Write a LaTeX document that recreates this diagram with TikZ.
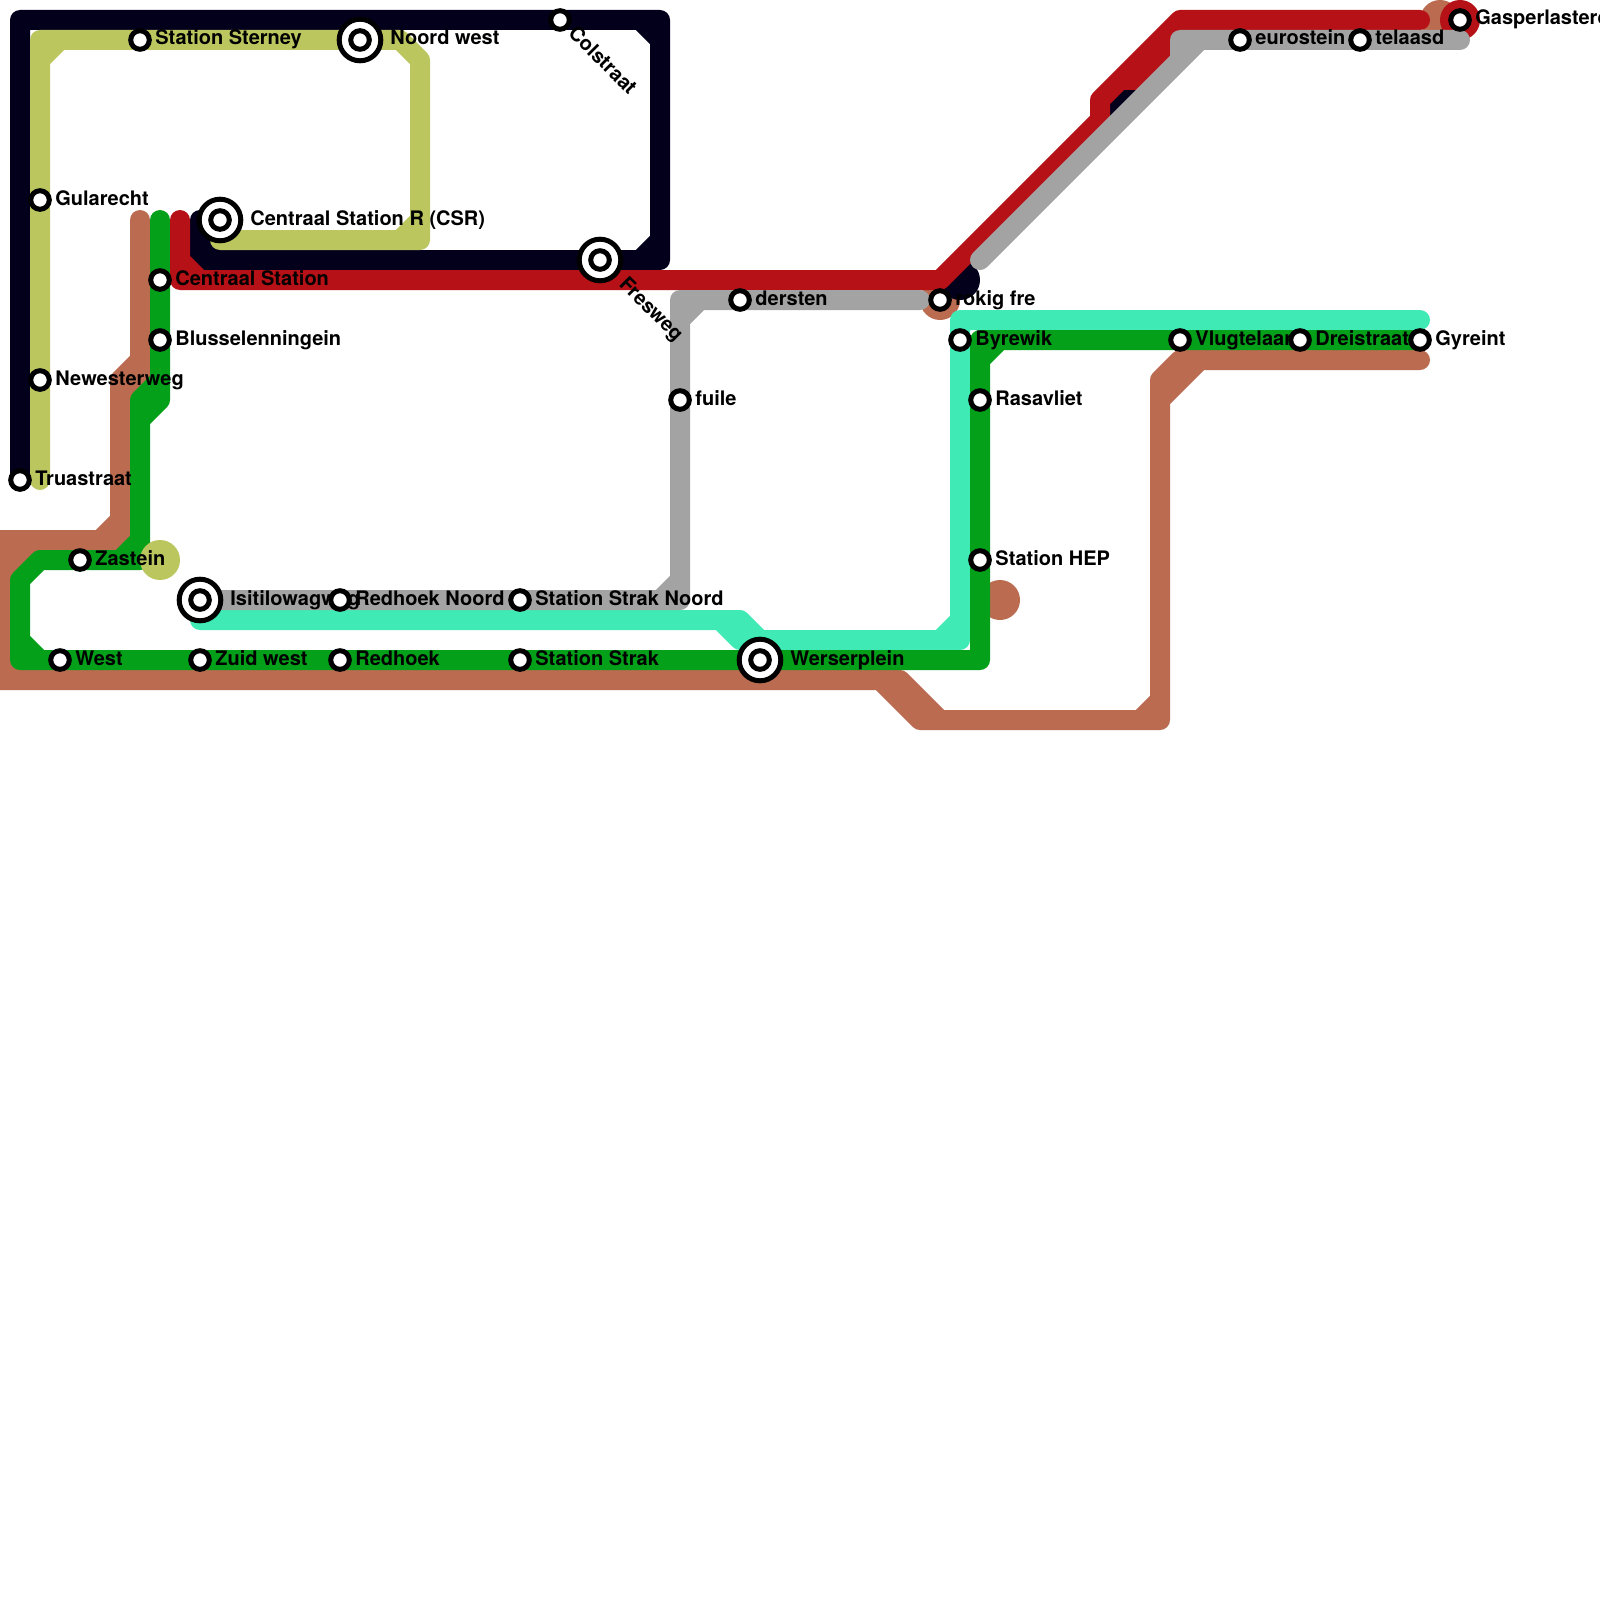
\documentclass[tikz,border=0pt]{standalone}
\usepackage{fontspec}
\setmainfont{TeX Gyre Heros}
\definecolor{cblack}{HTML}{03001C}
\definecolor{cred}{HTML}{B51116}
\definecolor{cgreen}{HTML}{05A01A}
\definecolor{cbrown}{HTML}{BA6B50}
\definecolor{colive}{HTML}{BBC65E}
\definecolor{cteal}{HTML}{40EAB5}
\definecolor{cgray}{HTML}{A3A3A3}
\tikzset{
  metro/.style={line width=10pt,line cap=round,line join=round},
  stn/.style={circle,draw=black,fill=white,line width=2.5pt,inner sep=0pt,minimum size=9.3pt},
  bigstn/.style={circle,draw=black,fill=white,line width=2.5pt,inner sep=0pt,minimum size=20.8pt},
  lab/.style={anchor=base west,inner sep=0pt,font=\fontsize{10pt}{12pt}\selectfont\bfseries,text=black},
  endpt/.style={circle,inner sep=0pt,minimum size=20pt}
}
\begin{document}
\begin{tikzpicture}[x=0.5pt,y=-0.5pt]
\useasboundingbox (0,0) rectangle (1600,1600);
\clip (0,0) rectangle (1600,1600);
% brown
\node[endpt,fill=cbrown] (bA) at (940,300) {};
\node[endpt,fill=cbrown] (bB) at (1000,600) {};
\node[endpt,fill=cbrown] (bC) at (1440,20) {};
\draw[metro,cbrown] (140,220) -- (140,380) -- (120,400) -- (120,540) -- (0,540) -- (0,680) -- (900,680) -- (940,720) -- (1160,720) -- (1160,380) -- (1180,360) -- (1420,360)
  (140,360) -- (120,380) -- (120,400) (120,520) -- (100,540) (0,560) -- (20,540) (0,580) -- (40,540) (0,660) -- (20,680)
  (880,680) -- (920,720) -- (940,720) (1140,720) -- (1160,700) (1160,400) -- (1200,360);
% teal
\draw[metro,cteal] (200,620) -- (740,620) -- (760,640) -- (960,640) -- (960,320) -- (1420,320)
  (720,620) -- (740,640) -- (760,640) (960,620) -- (940,640);
% green
\draw[metro,cgreen] (160,220) -- (160,380) -- (140,400) -- (140,560) -- (40,560) -- (20,580) -- (20,660) -- (980,660) -- (980,340) -- (1420,340)
  (160,380) -- (160,400) -- (140,420) (140,540) -- (120,560) (20,640) -- (40,660) (980,360) -- (1000,340);
% black
\node[endpt,fill=cblack] (kA) at (960,280) {};
\draw[metro,cblack] (20,480) -- (20,20) -- (660,20) -- (660,260) -- (200,260) -- (200,220)
  (640,20) -- (660,40) (660,240) -- (640,260) (200,240) -- (220,260);
% olive
\node[endpt,fill=colive] (oA) at (160,560) {};
\draw[metro,colive] (40,480) -- (40,40) -- (400,40) -- (420,60) -- (420,240) -- (220,240)
  (40,60) -- (60,40) (420,220) -- (400,240);
% red
\node[endpt,fill=cred] (rA) at (1460,20) {};
\fill[cblack] (1105,90) -- (1140,90) -- (1105,125) -- cycle;
\draw[metro,cred] (180,220) -- (180,280) -- (940,280) -- (1100,120) -- (1100,100) -- (1180,20) -- (1420,20)
  (180,260) -- (200,280);
\fill[cred] (1120,90) -- (1140,90) -- (1180,50) -- (1180,20) -- (1170,20) -- cycle;
% gray
\draw[metro,cgray] (200,600) -- (680,600) -- (680,300) -- (920,300)
  (660,600) -- (680,580) (680,320) -- (700,300);
\draw[metro,cgray] (980,260) -- (1180,60) -- (1180,40) -- (1460,40) (1180,60) -- (1200,40);
% labels
\foreach \name/\px/\py/\txt in {
  lsterney/155/45/Station Sterney, lgularecht/55/205/Gularecht, lnewester/55/385/Newesterweg,
  ltrua/35/485/Truastraat, lzastein/95/565/Zastein, lwest/75/665/West, lzuid/215/665/Zuid west,
  lredhoek/355/665/Redhoek, lredhoekn/355/605/Redhoek Noord, lstrakn/535/605/Station Strak Noord,
  lstrak/535/665/Station Strak, lfuile/695/405/fuile, lcentr/175/285/Centraal Station,
  lbluss/175/345/Blusselenningein, ldersten/755/305/dersten, lrokig/955/305/rokig fre,
  lbyrewik/975/345/Byrewik, lrasav/995/405/Rasavliet, lhep/995/565/Station HEP,
  lvlug/1195/345/Vlugtelaar, ldreis/1315/345/Dreistraat, lgyre/1435/345/Gyreint,
  leuro/1255/45/eurostein, ltela/1375/45/telaasd, lgasp/1475/25/Gasperlasterd,
  lnoord/390/45/Noord west, lcsr/250/225/Centraal Station R (CSR), lisit/230/605/Isitilowagweg,
  lwers/790/665/Werserplein}
  {\node[lab] (\name) at (\px,\py) {\txt};}
\node[lab,rotate=-45] (lcol) at (567,34) {Colstraat};
\node[lab,rotate=-45] (lfres) at (618,285) {Fresweg};
% stations
\foreach \name/\px/\py in {
  sterney/140/40, gularecht/40/200, newester/40/380, trua/20/480, zastein/80/560, west/60/660,
  zuid/200/660, redhoek/340/660, redhoekn/340/600, strakn/520/600, strak/520/660, fuile/680/400,
  centr/160/280, bluss/160/340, dersten/740/300, rokig/940/300, byrewik/960/340, rasav/980/400,
  hep/980/560, vlug/1180/340, dreis/1300/340, gyre/1420/340, euro/1240/40, tela/1360/40,
  gasp/1460/20, col/560/20}
  {\node[stn] (\name) at (\px,\py) {};}
\foreach \name/\px/\py in {noord/360/40, csr/220/220, isit/200/600, wers/760/660, fres/600/260}
  {\node[bigstn] (\name) at (\px,\py) {};
   \node[stn] (\name c) at (\px,\py) {};}
\end{tikzpicture}
\end{document}
